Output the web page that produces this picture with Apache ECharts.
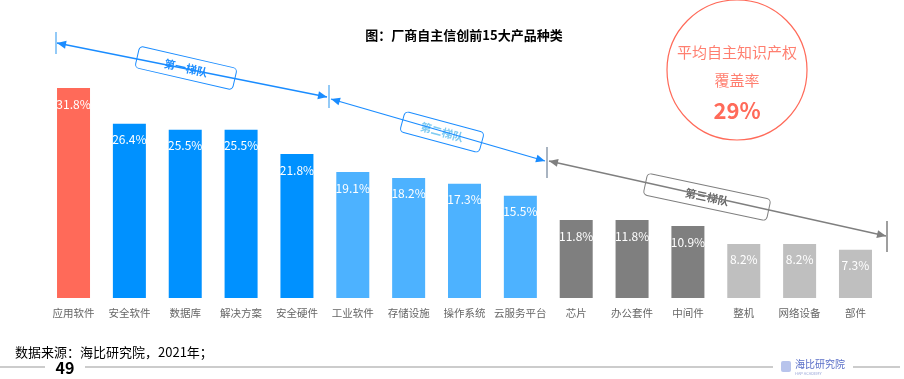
<!DOCTYPE html>
<html>
<head>
<meta charset="utf-8">
<script src="https://cdn.jsdelivr.net/npm/echarts@6/dist/echarts.min.js"></script>
<style>html,body{margin:0;padding:0;background:#fff;}#c{width:904px;height:379px;}</style>
</head>
<body>
<div id="c"></div>
<script>
var categories = ['应用软件','安全软件','数据库','解决方案','安全硬件','工业软件','存储设施','操作系统','云服务平台','芯片','办公套件','中间件','整机','网络设备','部件'];
var values = [31.8, 26.4, 25.5, 25.5, 21.8, 19.1, 18.2, 17.3, 15.5, 11.8, 11.8, 10.9, 8.2, 8.2, 7.3];
var barColors = ['#FF6A59','#0091FF','#0091FF','#0091FF','#0091FF','#4DB2FF','#4DB2FF','#4DB2FF','#4DB2FF','#7F7F7F','#7F7F7F','#7F7F7F','#BFBFBF','#BFBFBF','#BFBFBF'];
var titleText = '图：厂商自主信创前15大产品种类';
var sourceText = '数据来源：海比研究院，2021年；';
var tierNames = ['第一梯队','第二梯队','第三梯队'];

var FONT = '"Noto Sans CJK SC", "Microsoft YaHei", sans-serif';

function arrow(x1, y1, x2, y2, color, startHead, endHead) {
  var els = [{type:'line', shape:{x1:x1,y1:y1,x2:x2,y2:y2}, style:{stroke:color, lineWidth:1.3}, z:10}];
  var dx = x2 - x1, dy = y2 - y1, len = Math.sqrt(dx*dx+dy*dy);
  var ux = dx/len, uy = dy/len, px = -uy, py = ux, L = 9, W = 4;
  function head(tx, ty, dirx, diry) {
    return {type:'polygon', shape:{points:[[tx,ty],[tx - dirx*L + px*W, ty - diry*L + py*W],[tx - dirx*L - px*W, ty - diry*L - py*W]]}, style:{fill:color}, z:11};
  }
  if (startHead) els.push(head(x1, y1, -ux, -uy));
  if (endHead) els.push(head(x2, y2, ux, uy));
  return els;
}
function tick(x, y1, y2, color) {
  return {type:'line', shape:{x1:x, y1:y1, x2:x, y2:y2}, style:{stroke:color, lineWidth:1.5}, z:12};
}
function box(cx, cy, w, h, angleDeg, stroke, text, textColor) {
  return {
    type:'group', x:cx, y:cy, rotation: -angleDeg*Math.PI/180, z:20,
    children:[
      {type:'rect', shape:{x:-w/2, y:-h/2, width:w, height:h, r:4}, style:{fill:'#fff', stroke:stroke, lineWidth:1}},
      {type:'text', style:{text:text, x:0, y:0, align:'center', verticalAlign:'middle', fill:textColor, font:'bold 11px ' + FONT}}
    ]
  };
}

var graphics = [];
// tier 1
graphics = graphics.concat(arrow(57, 43, 327, 97, '#1A8CFF', true, true));
graphics.push(tick(56, 32, 54, '#6FB8F5'));
graphics.push(tick(329, 85, 108, '#6FB8F5'));
graphics.push(box(186, 68, 100, 22, 13, '#1A8CFF', tierNames[0], '#1A8CFF'));
// tier 2
graphics = graphics.concat(arrow(331, 99, 545, 161, '#1A8CFF', true, true));
graphics.push(box(442, 132, 82, 21, 15, '#1A8CFF', tierNames[1], '#7FCBF2'));
// tier 3
graphics = graphics.concat(arrow(549, 161, 886, 236, '#7F7F7F', true, true));
graphics.push(tick(547, 147, 178, '#8C9BAD'));
graphics.push(tick(887, 221, 252, '#7F7F7F'));
graphics.push(box(707, 197, 126, 22, 12, '#7F7F7F', tierNames[2], '#666666'));
// circle
graphics.push({type:'circle', shape:{cx:737, cy:70, r:70}, style:{fill:'none', stroke:'#FF6A59', lineWidth:1.2}, z:5});
graphics.push({type:'text', style:{text:'平均自主知识产权', x:737, y:52, align:'center', verticalAlign:'middle', fill:'#FF7F70', font:'15px ' + FONT}, z:6});
graphics.push({type:'text', style:{text:'覆盖率', x:737, y:80, align:'center', verticalAlign:'middle', fill:'#FF7F70', font:'15px ' + FONT}, z:6});
graphics.push({type:'text', style:{text:'29%', x:737, y:111, align:'center', verticalAlign:'middle', fill:'#FF6A59', font:'bold 22px ' + FONT}, z:6});
// title
graphics.push({type:'text', style:{text:titleText, x:464, y:35, align:'center', verticalAlign:'middle', fill:'#000', font:'bold 13px ' + FONT}});
// footer
graphics.push({type:'text', style:{text:sourceText, x:15, y:352, align:'left', verticalAlign:'middle', fill:'#000', font:'13px ' + FONT}});
graphics.push({type:'text', style:{text:'49', x:65, y:368, align:'center', verticalAlign:'middle', fill:'#000', font:'bold 16px ' + FONT}});
graphics.push({type:'line', shape:{x1:0, y1:367, x2:45, y2:367}, style:{stroke:'#999', lineWidth:1.2}});
graphics.push({type:'line', shape:{x1:85, y1:367, x2:773, y2:367}, style:{stroke:'#999', lineWidth:1.2}});
graphics.push({type:'line', shape:{x1:853, y1:367, x2:900, y2:367}, style:{stroke:'#999', lineWidth:1.2}});
graphics.push({type:'rect', shape:{x:781, y:361, width:10, height:11, r:2}, style:{fill:'#B8C4EC'}});
graphics.push({type:'text', style:{text:'海比研究院', x:795, y:364, align:'left', verticalAlign:'middle', fill:'#5A6FC8', font:'10px ' + FONT}});
graphics.push({type:'text', style:{text:'HAP ACADEMY', x:795, y:373, align:'left', verticalAlign:'middle', fill:'#9AA6D8', font:'4px ' + FONT}});

var chart = echarts.init(document.getElementById('c'));
chart.setOption({
  animation:false,
  backgroundColor:'#fff',
  grid:{left:45.6, right:20.6, top:34, bottom:81, containLabel:false},
  xAxis:{
    type:'category', data:categories,
    axisLine:{show:false}, axisTick:{show:false},
    axisLabel:{color:'#666', fontSize:10.5, margin:10, fontFamily:FONT, interval:0}
  },
  yAxis:{type:'value', min:0, max:40, show:false, splitLine:{show:false}},
  series:[{
    type:'bar', barWidth:33,
    data: values.map(function(v,i){ return {value:v, itemStyle:{color:barColors[i]}}; }),
    label:{show:true, position:'insideTop', distance:10, color:'#fff', fontSize:12, fontFamily:FONT, formatter:'{c}%'}
  }],
  graphic: graphics
});
</script>
</body>
</html>
